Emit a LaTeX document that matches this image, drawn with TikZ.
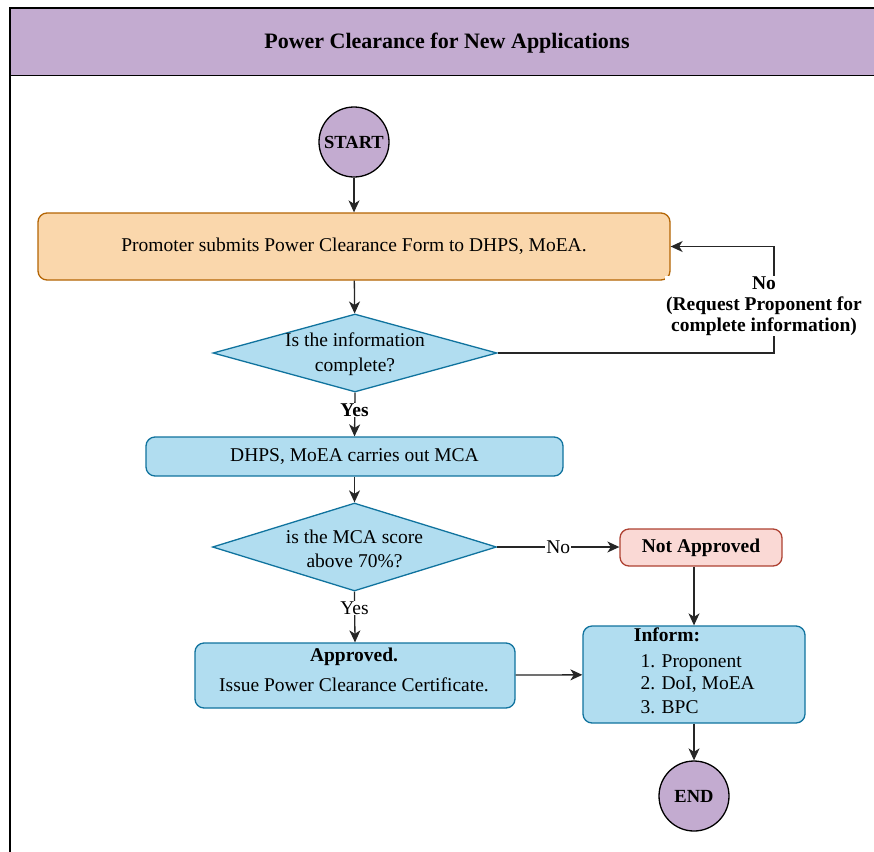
\documentclass[tikz,border=0pt]{standalone}
\usepackage{fontspec}
\setmainfont{Liberation Serif}
\usetikzlibrary{shapes.geometric,arrows.meta}
\definecolor{purp}{HTML}{C3ABD0}
\definecolor{bluef}{HTML}{B1DDF0}
\definecolor{blued}{HTML}{10739E}
\definecolor{orf}{HTML}{FAD7AC}
\definecolor{ord}{HTML}{B46504}
\definecolor{redf}{HTML}{FAD9D5}
\definecolor{redd}{HTML}{AE4132}
\tikzset{
  x=1pt,y=-1pt,
  every node/.style={font=\fontsize{19.5}{23}\selectfont},
  bfont/.style={font=\fontsize{19.5}{23}\selectfont\bfseries},
  conn/.style={draw=black!85,line width=1.3pt,-{Stealth[length=12pt,width=11pt,inset=3.5pt]}},
  term/.style={circle,draw=black,line width=1.3pt,fill=purp,minimum size=70pt,inner sep=0pt,font=\fontsize{18.5}{22}\selectfont\bfseries},
  procbox/.style={rectangle,rounded corners=9pt,draw=blued,line width=1.3pt,fill=bluef,inner sep=0pt},
  decide/.style={diamond,draw=blued,line width=1.3pt,fill=bluef,inner sep=0pt,minimum width=284pt},
  dtext/.style={align=center,font=\fontsize{19.5}{24.5}\selectfont},
}
\begin{document}
\begin{tikzpicture}
\useasboundingbox (0,0) rectangle (874,851);
% frame and header
\draw[line width=1.3pt,fill=white] (10,8) rectangle (880,860);
\node[draw=black,line width=1.3pt,fill=purp,minimum width=870pt,minimum height=67pt,anchor=north west,inner sep=0pt] (hdr) at (10,8) {};
\node[font=\fontsize{22}{26}\selectfont\bfseries] (title) at (447,43) {Power Clearance for New Applications};
% nodes
\node[term] (start) at (354,142) {START};
\node[procbox,draw=ord,fill=orf,minimum width=632pt,minimum height=67pt] (promo) at (354,246.5) {Promoter submits Power Clearance Form to DHPS, MoEA.};
\node[decide,minimum height=78pt] (d1) at (355,353) {};
\node[dtext] (d1t) at (355,354) {Is the information\\complete?};
\node[procbox,minimum width=417pt,minimum height=39pt] (mca) at (354.5,456.5) {DHPS, MoEA carries out MCA};
\node[decide,minimum height=88pt] (d2) at (354.5,547) {};
\node[dtext] (d2t) at (354.5,549) {is the MCA score\\above 70\%?};
\node[procbox,draw=redd,fill=redf,minimum width=162pt,minimum height=37pt,bfont] (notapp) at (701,547.5) {Not Approved};
\node[procbox,minimum width=320pt,minimum height=65pt] (app) at (355,675.5) {};
\node[bfont] (apptitle) at (354,657) {Approved.};
\node (apptext) at (354,685) {Issue Power Clearance Certificate.};
\node[procbox,minimum width=222pt,minimum height=97pt] (inform) at (694,674.5) {};
\node[bfont] (inftitle) at (667,635) {Inform:};
\node[anchor=west] (inf1) at (637,663) {1. Proponent};
\node[anchor=west] (inf2) at (637,685) {2. DoI, MoEA};
\node[anchor=west] (inf3) at (637,707) {3. BPC};
\node[term] (end) at (694,796) {END};
% connectors
\draw[conn] (start) -- (promo);
\draw[conn] (promo) -- (d1);
\coordinate (lp1) at (774,353);
\coordinate (lp2) at (774,246.5);
\draw[conn] (d1.east) -- (lp1) -- (lp2) -- (promo.east);
\node[fill=white,align=center,font=\fontsize{19.5}{21}\selectfont\bfseries,inner sep=1pt] (nolbl) at (764,306) {No\\(Request Proponent for\\complete information)};
\draw[conn] (d1.south) -- (mca.north);
\node[fill=white,inner sep=1pt,bfont] (yes1) at (354.5,410) {Yes};
\draw[conn] (mca) -- (d2);
\draw[conn] (d2.east) -- (d2.east -| notapp.west) node[pos=0.5,fill=white,inner sep=1pt] (no2) {No};
\draw[conn] (d2.south) -- (app.north);
\node[fill=white,inner sep=1pt] (yes2) at (354.5,608) {Yes};
\draw[conn] (app) -- (inform);
\draw[conn] (notapp.south -| inform.north) -- (inform.north);
\draw[conn] (inform) -- (end);
\end{tikzpicture}
\end{document}
